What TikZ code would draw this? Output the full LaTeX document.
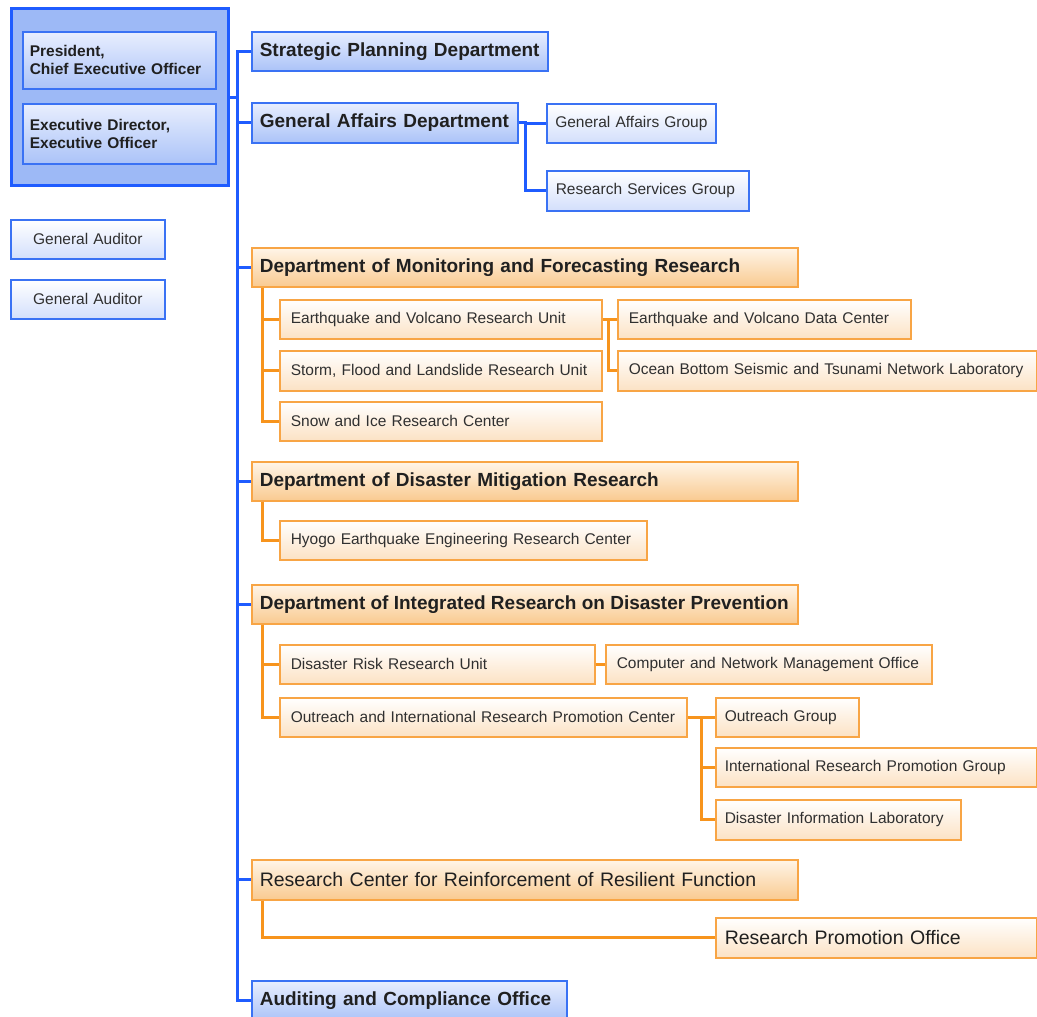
\documentclass[tikz,border=0pt]{standalone}
\usepackage{fontspec}
\setmainfont{Liberation Sans}
\definecolor{bline}{HTML}{1F5CFF}
\definecolor{bbord}{HTML}{3A72F4}
\definecolor{bTop}{HTML}{E8EEFE}
\definecolor{bBot}{HTML}{ABC3F8}
\definecolor{bSubBot}{HTML}{D3DFFC}
\definecolor{execfill}{HTML}{9DB9F6}
\definecolor{oline}{HTML}{F7941D}
\definecolor{obord}{HTML}{F8A545}
\definecolor{oTop}{HTML}{FFF5E8}
\definecolor{oBot}{HTML}{F9CA90}
\definecolor{oSubBot}{HTML}{FCE2C4}
\definecolor{txt}{HTML}{202020}
\definecolor{subtxt}{HTML}{303030}
\tikzset{
  box/.style={anchor=north west, inner ysep=0pt, align=left, text=txt},
  bdept/.style={box, draw=bbord, line width=1.6pt, top color=bTop, bottom color=bBot,
    inner xsep=8pt, font=\bfseries\fontsize{19}{22}\selectfont},
  bsub/.style={box, draw=bbord, line width=1.6pt, top color=white, bottom color=bSubBot,
    inner xsep=9pt, text=subtxt, font=\fontsize{15.5}{18}\selectfont},
  odept/.style={box, draw=obord, line width=1.6pt, top color=oTop, bottom color=oBot,
    inner xsep=8pt, font=\bfseries\fontsize{19}{22}\selectfont},
  osub/.style={box, draw=obord, line width=1.6pt, top color=white, bottom color=oSubBot,
    inner xsep=11pt, text=subtxt, font=\fontsize{15.5}{18}\selectfont},
  blink/.style={draw=bline, line width=3pt},
  olink/.style={draw=oline, line width=3pt},
}
\begin{document}
\begin{tikzpicture}[x=1pt,y=-1pt]
\useasboundingbox (0,0) rectangle (1037,1017);
% executive block
\node[anchor=north west, draw=bline, line width=3pt, fill=execfill, minimum width=217pt, minimum height=177pt, inner sep=0pt] (exec) at (10,7) {};
\node[bdept, text width=179pt, inner xsep=7pt, minimum height=57pt, font=\bfseries\fontsize{15.5}{18}\selectfont] (pres) at (22,31) {President,\\Chief Executive Officer};
\node[bdept, text width=179pt, inner xsep=7pt, minimum height=60pt, font=\bfseries\fontsize{15.5}{18}\selectfont] (ed) at (22,103) {Executive Director,\\Executive Officer};
\node[bsub, text width=136pt, align=center, minimum height=39pt] (ga1) at (10,219) {General Auditor};
\node[bsub, text width=136pt, align=center, minimum height=39pt] (ga2) at (10,279) {General Auditor};
% blue departments
\node[bdept, text width=280pt, minimum height=39pt] (smd) at (251,31) {Strategic Planning Department};
\node[bdept, text width=250pt, minimum height=40pt] (gad) at (251,102) {General Affairs Department};
\node[bsub, text width=160pt, inner xsep=4.5pt, minimum height=39pt] (gag) at (546,103) {\hspace*{4pt}General Affairs Group};
\node[bsub, text width=184pt, minimum height=40pt] (rsg) at (546,170) {Research Services Group};
\node[bdept, text width=299pt, minimum height=40pt] (aco) at (251,980) {Auditing and Compliance Office};
% monitoring
\node[odept, text width=530pt, minimum height=39pt] (dmf) at (251,247) {Department of Monitoring and Forecasting Research};
\node[osub, text width=300pt, minimum height=39pt] (evru) at (279,299) {Earthquake and Volcano Research Unit};
\node[osub, text width=300pt, minimum height=40pt] (storm) at (279,350) {Storm, Flood and Landslide Research Unit};
\node[osub, text width=300pt, minimum height=39pt] (snow) at (279,401) {Snow and Ice Research Center};
\node[osub, text width=271pt, minimum height=39pt] (evdc) at (617,299) {Earthquake and Volcano Data Center};
\node[osub, text width=397pt, minimum height=40pt] (ocean) at (617,350) {Ocean Bottom Seismic and Tsunami Network Laboratory};
% mitigation
\node[odept, text width=530pt, minimum height=39pt] (ddm) at (251,461) {Department of Disaster Mitigation Research};
\node[osub, text width=345pt, minimum height=39pt] (hyogo) at (279,520) {Hyogo Earthquake Engineering Research Center};
% integrated
\node[odept, minimum height=39pt] (dir) at (251,584) {\makebox[530pt][l]{Department of Integrated Research on Disaster Prevention}};
\node[osub, text width=293pt, minimum height=39pt] (drru) at (279,644) {Disaster Risk Research Unit};
\node[osub, text width=304pt, minimum height=39pt] (cnmo) at (605,644) {Computer and Network Management Office};
\node[osub, text width=385pt, minimum height=39pt] (oirpc) at (279,697) {Outreach and International Research Promotion Center};
\node[osub, text width=125pt, inner xsep=9pt, minimum height=39pt] (og) at (715,697) {Outreach Group};
\node[osub, text width=303pt, inner xsep=9pt, minimum height=39pt] (irpg) at (715,747) {International Research Promotion Group};
\node[osub, text width=227pt, inner xsep=9pt, minimum height=40pt] (dil) at (715,799) {Disaster Information Laboratory};
% resilient
\node[odept, text width=530pt, minimum height=40pt, font=\fontsize{19.5}{22}\selectfont] (rcrrf) at (251,859) {Research Center for Reinforcement of Resilient Function};
\node[osub, text width=303pt, inner xsep=9pt, minimum height=40pt, text=txt, font=\fontsize{19.5}{22}\selectfont] (rpo) at (715,917) {Research Promotion Office};
% connectors
\coordinate (sp) at (237,0);
\coordinate (gj) at (525,0);
\coordinate (os) at (262,0);
\coordinate (ej) at (608,0);
\coordinate (oj) at (701,0);
\draw[blink] (smd.west) -- (smd.west -| sp) -- (aco.west -| sp) -- (aco.west);
\draw[blink] (exec.east) -- (exec.east -| sp);
\foreach \n in {gad,dmf,ddm,dir,rcrrf} \draw[blink] (\n.west) -- (\n.west -| sp);
\draw[blink] (gad.east) -- (gad.east -| gj) |- (gag.west);
\draw[blink] (gad.east -| gj) |- (rsg.west);
\draw[olink] (dmf.south -| os) |- (snow.west);
\draw[olink] (evru.west -| os) -- (evru.west);
\draw[olink] (storm.west -| os) -- (storm.west);
\draw[olink] (evru.east) -- (evdc.west);
\draw[olink] (evru.east -| ej) |- (ocean.west);
\draw[olink] (ddm.south -| os) |- (hyogo.west);
\draw[olink] (dir.south -| os) |- (oirpc.west);
\draw[olink] (drru.west -| os) -- (drru.west);
\draw[olink] (drru.east) -- (cnmo.west);
\draw[olink] (oirpc.east) -- (og.west);
\draw[olink] (oirpc.east -| oj) |- (dil.west);
\draw[olink] (irpg.west -| oj) -- (irpg.west);
\draw[olink] (rcrrf.south -| os) |- (rpo.west);
\end{tikzpicture}
\end{document}
